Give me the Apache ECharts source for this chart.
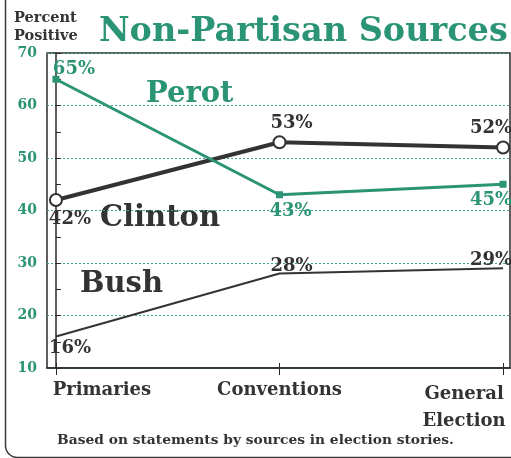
<!DOCTYPE html>
<html>
<head>
<meta charset="utf-8">
<script src="https://cdn.jsdelivr.net/npm/echarts@6/dist/echarts.min.js"></script>
<style>
  html, body { margin: 0; padding: 0; background: #ffffff; }
  #chart { width: 511px; height: 458px; }
</style>
</head>
<body>
<div id="chart"></div>
<script>
// ---- data ----
const categories = ['Primaries', 'Conventions', 'General Election'];
const perot   = [65, 43, 45];
const clinton = [42, 53, 52];
const bush    = [16, 28, 29];
const yTickValues = [10, 20, 30, 40, 50, 60, 70];

const GREEN = '#2a9474';
const DARK = '#333333';
const SERIF = '"DejaVu Serif", "Liberation Serif", serif';

function withLabels(arr, labelCfgs) {
  return arr.map((v, i) => ({ value: [i, v], label: labelCfgs[i] }));
}

const labelBase = { show: true, fontFamily: SERIF, fontWeight: 'bold', fontSize: 18,
  formatter: p => p.value[1] + '%' };

const chart = echarts.init(document.getElementById('chart'), null, { renderer: 'canvas' });

const option = {
  backgroundColor: '#ffffff',
  animation: false,
  title: [
    { text: 'Non-Partisan Sources', left: 94, top: 10,
      textStyle: { fontFamily: SERIF, fontWeight: 'bold', fontSize: 33.5, color: GREEN } },
    { text: 'Percent\nPositive', left: 9, top: 4,
      textStyle: { fontFamily: SERIF, fontWeight: 'bold', fontSize: 14.5, lineHeight: 18, color: DARK } },
    { text: 'Based on statements by sources in election stories.', left: 'center', top: 428,
      textStyle: { fontFamily: SERIF, fontWeight: 'bold', fontSize: 13.8, color: DARK } }
  ],
  graphic: [
    { type: 'rect', left: 3, top: -20, shape: { width: 560, height: 475, r: 12 },
      style: { fill: 'none', stroke: '#3a3a3a', lineWidth: 1.5 }, z: 0 },
    { type: 'text', left: 146, top: 80,
      style: { text: 'Perot', font: 'bold 29px ' + SERIF, fill: GREEN } },
    { type: 'text', left: 100, top: 204,
      style: { text: 'Clinton', font: 'bold 29px ' + SERIF, fill: DARK } },
    { type: 'text', left: 80, top: 270,
      style: { text: 'Bush', font: 'bold 29px ' + SERIF, fill: DARK } }
  ],
  grid: { left: 47, right: 1, top: 53, bottom: 90, outerBoundsMode: 'none', containLabel: false,
    show: true, borderColor: '#2a2a2a', borderWidth: 1.5, backgroundColor: 'transparent' },
  xAxis: [
    {
      type: 'value', min: -0.04, max: 2.031,
      axisLine: { show: true, lineStyle: { color: '#2a2a2a', width: 1.5 } },
      splitLine: { show: false },
      axisTick: { show: true, customValues: [0, 1, 2], length: 7, lineStyle: { color: '#2a2a2a', width: 1 } },
      axisLabel: {
        show: true, customValues: [0, 1, 2], margin: 13, hideOverlap: false,
        formatter: v => {
          const name = categories[Math.round(v)];
          if (v === 0) return '{a|' + name + '}';
          if (v === 1) return '{b|' + name + '}';
          const parts = name.split(' ');
          return '{c|' + parts[0] + '}\n{c|' + parts[1] + '}';
        },
        rich: {
          a: { fontFamily: SERIF, fontWeight: 'bold', fontSize: 18, color: DARK, padding: [0, 0, 0, 92] },
          b: { fontFamily: SERIF, fontWeight: 'bold', fontSize: 18, color: DARK },
          c: { fontFamily: SERIF, fontWeight: 'bold', fontSize: 18, color: DARK, lineHeight: 27, padding: [0, 78, 0, 0] }
        }
      }
    },
    {
      type: 'value', min: -0.04, max: 2.031, position: 'bottom',
      axisLine: { show: false }, splitLine: { show: false }, axisLabel: { show: false },
      axisTick: { show: true, inside: true, customValues: [0, 1, 2], length: 5, lineStyle: { color: '#2a2a2a', width: 1 } }
    }
  ],
  yAxis: {
    type: 'value', min: 10, max: 70, interval: 10,
    axisLine: { show: true, lineStyle: { color: '#2a2a2a', width: 1.5 } },
    axisTick: { show: true, inside: true, length: 5, lineStyle: { color: '#2a2a2a' } },
    minorTick: { show: true, splitNumber: 2, length: 5, lineStyle: { color: '#2a2a2a' } },
    splitLine: { show: true, lineStyle: { color: '#3aa88a', type: [2, 2], width: 1 } },
    axisLabel: {
      margin: 10, fontFamily: SERIF, fontWeight: 'bold', fontSize: 14, color: GREEN,
      formatter: v => (yTickValues.indexOf(v) >= 0 ? String(v) : '')
    }
  },
  series: [
    {
      name: 'Bush', type: 'line', xAxisIndex: 0, symbol: 'circle', symbolSize: 0.1, showSymbol: true,
      lineStyle: { color: DARK, width: 2 }, itemStyle: { color: DARK }, z: 3,
      label: Object.assign({}, labelBase, { color: DARK }),
      data: withLabels(bush, [
        { position: 'bottom', distance: 3, offset: [14, 0] },
        { position: 'top', distance: 0, offset: [12, 2] },
        { position: 'top', distance: 1, offset: [-12, 2] }
      ])
    },
    {
      name: 'Clinton', type: 'line', xAxisIndex: 0, symbol: 'emptyCircle', symbolSize: 12,
      lineStyle: { color: DARK, width: 4 }, itemStyle: { color: DARK, borderWidth: 1.2 }, z: 4,
      label: Object.assign({}, labelBase, { color: DARK }),
      data: withLabels(clinton, [
        { position: 'bottom', distance: 3, offset: [14, 0] },
        { position: 'top', distance: 3, offset: [12, 0] },
        { position: 'top', distance: 3, offset: [-12, 0] }
      ])
    },
    {
      name: 'Perot', type: 'line', xAxisIndex: 0, symbol: 'rect', symbolSize: 7,
      lineStyle: { color: GREEN, width: 3 }, itemStyle: { color: GREEN }, z: 5,
      label: Object.assign({}, labelBase, { color: GREEN }),
      data: withLabels(perot, [
        { position: 'top', distance: 1, offset: [18, 4] },
        { position: 'bottom', distance: 4, offset: [11, 0] },
        { position: 'bottom', distance: 4, offset: [-12, 0] }
      ])
    }
  ]
};
chart.setOption(option);
</script>
</body>
</html>
